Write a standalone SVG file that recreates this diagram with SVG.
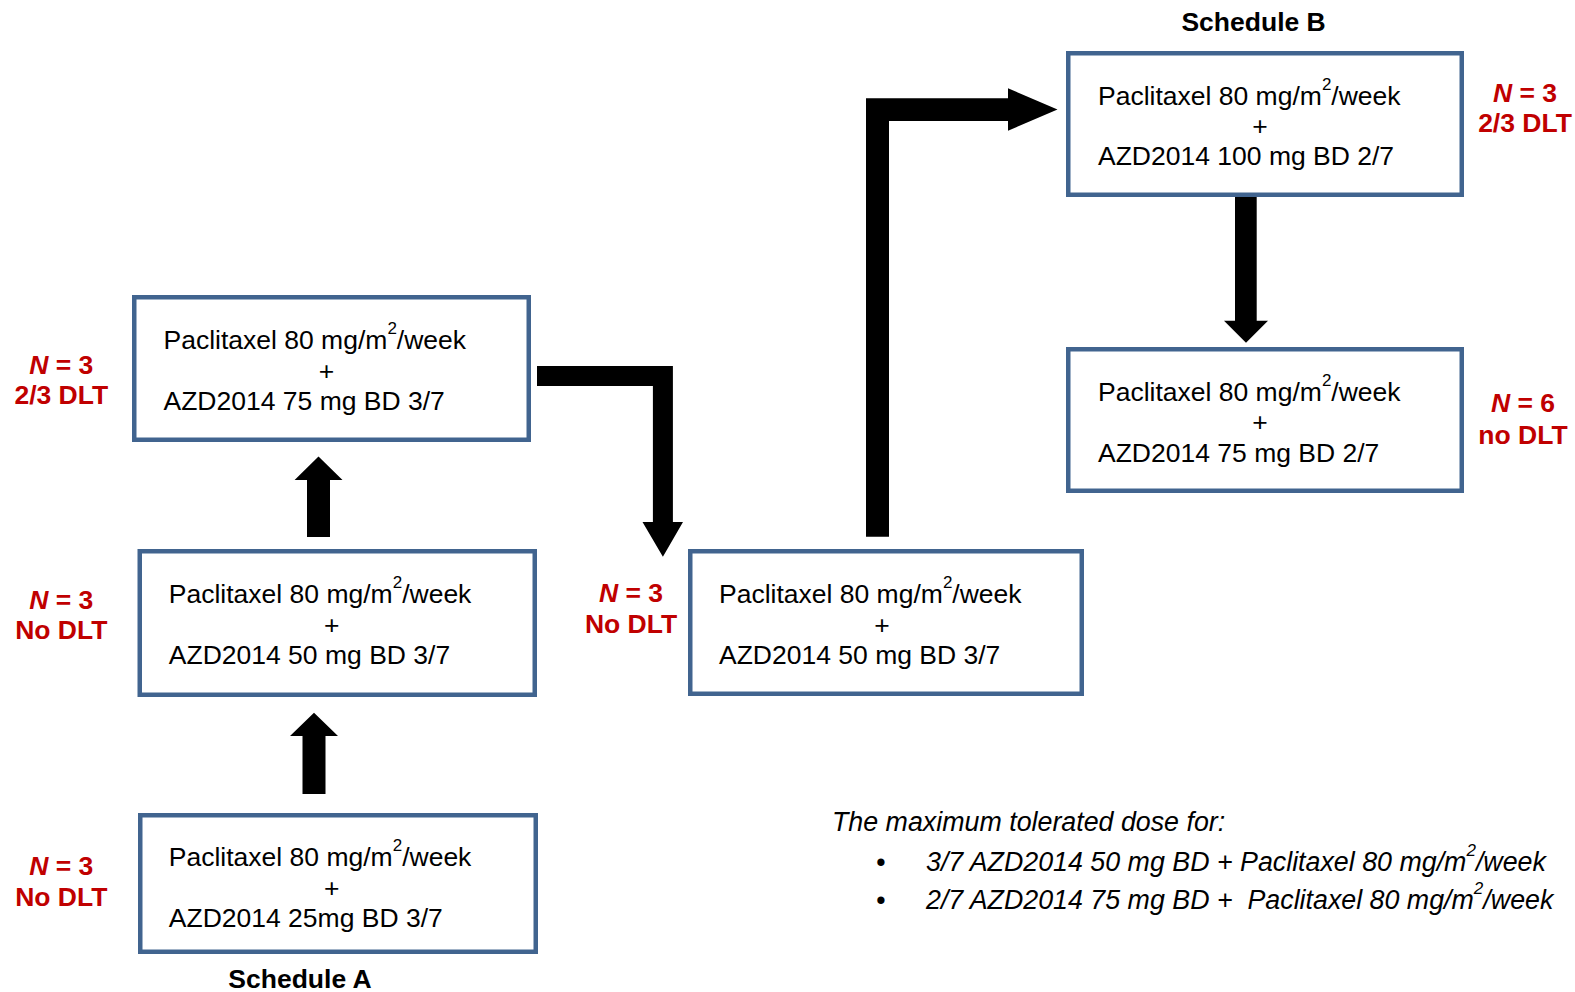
<svg xmlns="http://www.w3.org/2000/svg" width="1575" height="992" viewBox="0 0 1575 992">
<style>
.box{fill:#fff;stroke:#41648F;stroke-width:4.5}
.t{font-family:"Liberation Sans",Arial,sans-serif;font-size:26.5px;fill:#000}
.pl{text-anchor:middle}
.lab{font-family:"Liberation Sans",Arial,sans-serif;font-size:26.5px;font-weight:bold;fill:#C00000;text-anchor:middle}
.hd{font-family:"Liberation Sans",Arial,sans-serif;font-size:26.5px;font-weight:bold;fill:#000;text-anchor:middle}
.fn{font-family:"Liberation Sans",Arial,sans-serif;font-size:26.8px;font-style:italic;fill:#000}
.arr{fill:#000}
</style>
<rect width="1575" height="992" fill="#fff"/>
<g id="connectors">
<polygon class="arr" points="302.5,794 302.5,736 290,736 314,712.7 338,736 325.5,736 325.5,794"/>
<polygon class="arr" points="307,537 307,480 294.6,480 318.5,456.5 342.5,480 330,480 330,537"/>
<polygon class="arr" points="537,366 672.9,366 672.9,522 683,522 662.9,556.7 642.5,522 652.9,522 652.9,386 537,386"/>
<polygon class="arr" points="866,536.7 866,98.3 1008,98.3 1008,88.3 1057.5,109.6 1008,130.7 1008,121 889,121 889,536.7"/>
<polygon class="arr" points="1235,197 1256.7,197 1256.7,320.7 1268,320.7 1246,342.7 1224,320.7 1235,320.7"/>
</g>
<g id="nodeA3">
<rect class="box" x="134.25" y="297.25" width="394.5" height="142.5"/>
<text class="t" x="163.5" y="349">Paclitaxel 80 mg/m<tspan font-size="17" dy="-15">2</tspan><tspan dy="15">/week</tspan></text>
<text class="t pl" x="326.5" y="379.5">+</text>
<text class="t" x="163.5" y="409.5">AZD2014 75 mg BD 3/7</text>
</g>
<g id="nodeA2">
<rect class="box" x="139.75" y="551.25" width="395" height="143.5"/>
<text class="t" x="168.8" y="603">Paclitaxel 80 mg/m<tspan font-size="17" dy="-15">2</tspan><tspan dy="15">/week</tspan></text>
<text class="t pl" x="331.8" y="633.5">+</text>
<text class="t" x="168.8" y="663.5">AZD2014 50 mg BD 3/7</text>
</g>
<g id="nodeA1">
<rect class="box" x="140.25" y="815.25" width="395.5" height="136.5"/>
<text class="t" x="168.8" y="866">Paclitaxel 80 mg/m<tspan font-size="17" dy="-15">2</tspan><tspan dy="15">/week</tspan></text>
<text class="t pl" x="331.8" y="896.5">+</text>
<text class="t" x="168.8" y="926.5">AZD2014 25mg BD 3/7</text>
</g>
<g id="nodeMid">
<rect class="box" x="690.25" y="551.25" width="391.5" height="142.5"/>
<text class="t" x="719" y="603">Paclitaxel 80 mg/m<tspan font-size="17" dy="-15">2</tspan><tspan dy="15">/week</tspan></text>
<text class="t pl" x="882" y="633.5">+</text>
<text class="t" x="719" y="663.5">AZD2014 50 mg BD 3/7</text>
</g>
<g id="nodeB1">
<rect class="box" x="1068.25" y="53.25" width="393.5" height="141.5"/>
<text class="t" x="1098" y="104.5">Paclitaxel 80 mg/m<tspan font-size="17" dy="-15">2</tspan><tspan dy="15">/week</tspan></text>
<text class="t pl" x="1260" y="135">+</text>
<text class="t" x="1098" y="165">AZD2014 100 mg BD 2/7</text>
</g>
<g id="nodeB2">
<rect class="box" x="1068.25" y="349.25" width="393.5" height="141.5"/>
<text class="t" x="1098" y="400.5">Paclitaxel 80 mg/m<tspan font-size="17" dy="-15">2</tspan><tspan dy="15">/week</tspan></text>
<text class="t pl" x="1260" y="431">+</text>
<text class="t" x="1098" y="461.5">AZD2014 75 mg BD 2/7</text>
</g>
<g id="labels">
<text class="lab" x="61.3" y="374"><tspan font-style="italic">N</tspan> = 3</text>
<text class="lab" x="61.3" y="404">2/3 DLT</text>
<text class="lab" x="61.3" y="609"><tspan font-style="italic">N</tspan> = 3</text>
<text class="lab" x="61.3" y="639">No DLT</text>
<text class="lab" x="61.3" y="875"><tspan font-style="italic">N</tspan> = 3</text>
<text class="lab" x="61.3" y="905.5">No DLT</text>
<text class="lab" x="631" y="602"><tspan font-style="italic">N</tspan> = 3</text>
<text class="lab" x="631" y="633">No DLT</text>
<text class="lab" x="1525" y="102"><tspan font-style="italic">N</tspan> = 3</text>
<text class="lab" x="1525" y="132">2/3 DLT</text>
<text class="lab" x="1523" y="412"><tspan font-style="italic">N</tspan> = 6</text>
<text class="lab" x="1523" y="443.5">no DLT</text>
<text class="hd" x="1253.6" y="31">Schedule B</text>
<text class="hd" x="300" y="988">Schedule A</text>
</g>
<g id="footnote">
<text class="fn" x="832" y="831">The maximum tolerated dose for:</text>
<text class="fn" x="876" y="871">•</text>
<text class="fn" x="926" y="871">3/7 AZD2014 50 mg BD + Paclitaxel 80 mg/m<tspan font-size="17" dy="-15">2</tspan><tspan dy="15">/week</tspan></text>
<text class="fn" x="876" y="909">•</text>
<text class="fn" x="926" y="909" xml:space="preserve">2/7 AZD2014 75 mg BD +  Paclitaxel 80 mg/m<tspan font-size="17" dy="-15">2</tspan><tspan dy="15">/week</tspan></text>
</g>
</svg>
